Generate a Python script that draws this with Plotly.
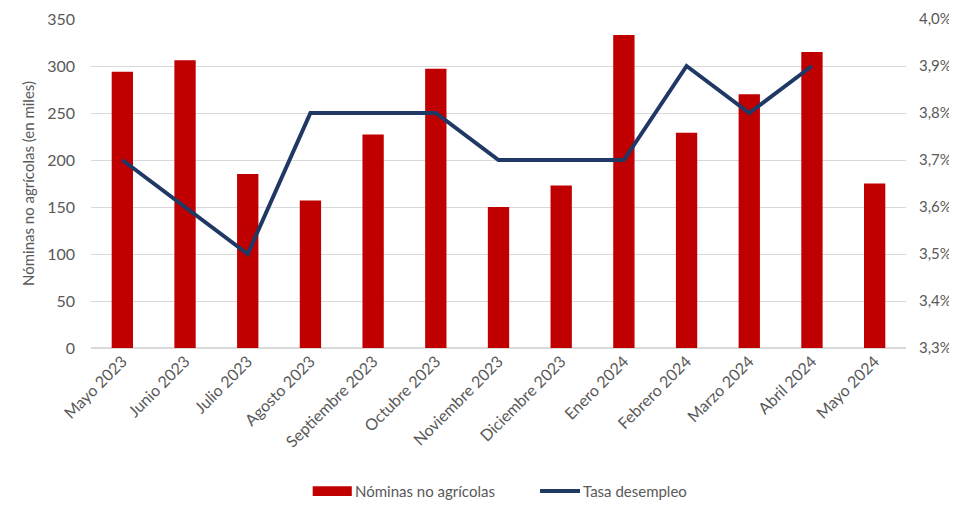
import plotly.graph_objects as go

meses = ["Mayo 2023", "Junio 2023", "Julio 2023", "Agosto 2023", "Septiembre 2023",
         "Octubre 2023", "Noviembre 2023", "Diciembre 2023", "Enero 2024",
         "Febrero 2024", "Marzo 2024", "Abril 2024", "Mayo 2024"]
nominas = [294, 306, 185, 157, 227, 297, 150, 173, 333, 229, 270, 315, 175]
desempleo = [3.7, 3.6, 3.5, 3.8, 3.8, 3.8, 3.7, 3.7, 3.7, 3.9, 3.8, 3.9, None]

BAR_COLOR = "#C00000"
LINE_COLOR = "#1F3864"
font = dict(family="Lato, Open Sans, sans-serif", size=16, color="#595959")

fig = go.Figure()
fig.add_trace(go.Bar(x=meses, y=nominas, name="Nóminas no agrícolas",
                     marker=dict(color=BAR_COLOR, line=dict(width=0)), yaxis="y",
                     showlegend=False))
fig.add_trace(go.Scatter(x=meses, y=desempleo, name="Tasa desempleo", mode="lines",
                         line=dict(color=LINE_COLOR, width=4), yaxis="y2",
                         showlegend=False))

# custom legend (wide swatches as in the reference)
fig.add_shape(type="rect", xref="paper", yref="paper", x0=0.272, x1=0.320, y0=-0.420, y1=-0.450,
              fillcolor=BAR_COLOR, line=dict(width=0))
fig.add_annotation(text="Nóminas no agrícolas", xref="paper", yref="paper", x=0.322, y=-0.435,
                   xanchor="left", yanchor="middle", showarrow=False, font=dict(size=15))
fig.add_shape(type="line", xref="paper", yref="paper", x0=0.551, x1=0.600, y0=-0.435, y1=-0.435,
              line=dict(color=LINE_COLOR, width=4))
fig.add_annotation(text="Tasa desempleo", xref="paper", yref="paper", x=0.601, y=-0.435,
                   xanchor="left", yanchor="middle", showarrow=False, font=dict(size=15))

fig.update_layout(
    width=949, height=497,
    margin=dict(l=83, r=51, t=11, b=157, autoexpand=False),
    paper_bgcolor="white", plot_bgcolor="white",
    font=font,
    separators=",.",
    bargap=0.66,
    showlegend=False,
    xaxis=dict(tickangle=-45, showgrid=False, showline=False, ticks="", automargin=False,
               tickfont=dict(size=16), ticklabeloverflow="allow"),
    yaxis=dict(range=[0, 350], dtick=50, showgrid=True, gridcolor="#D9D9D9",
               zeroline=True, zerolinecolor="#D9D9D9", ticks="", ticklabelstandoff=15,
               automargin=False, ticklabeloverflow="allow",
               title=dict(text="Nóminas no agrícolas (en miles)", font=dict(size=15), standoff=8)),
    yaxis2=dict(range=[3.3, 4.0], dtick=0.1, overlaying="y", side="right",
                tickformat=".1f", ticksuffix="%", showgrid=False, zeroline=False,
                ticks="", ticklabelstandoff=12, automargin=False, tickfont=dict(size=15),
                ticklabeloverflow="allow"),
)

fig.write_html("out.html")
